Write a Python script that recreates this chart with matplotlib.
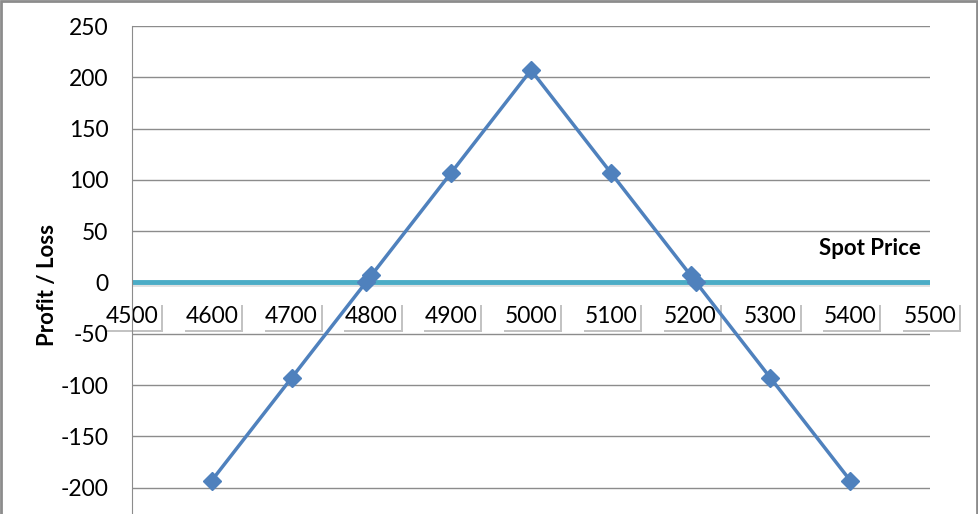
import numpy as np
import matplotlib.pyplot as plt
import matplotlib.patheffects as pe
from matplotlib.patches import Rectangle

plt.rcParams['font.family'] = ['Lato', 'DejaVu Sans']
plt.rcParams['axes.unicode_minus'] = False

# spot price vs payoff of the strategy
spot = [4600, 4700, 4793, 4800, 4900, 5000, 5100, 5200, 5207, 5300, 5400]
pnl = [-193, -93, 0, 7, 107, 207, 107, 7, 0, -93, -193]

x_ticks = [4500, 4600, 4700, 4800, 4900, 5000, 5100, 5200, 5300, 5400, 5500]
y_ticks = [-200, -150, -100, -50, 0, 50, 100, 150, 200, 250]

fig = plt.figure(figsize=(9.79, 5.14), dpi=100)
ax = fig.add_axes([0.1348, -0.0486, 0.8152, 0.998])

ax.set_xlim(4500, 5500)
ax.set_ylim(-250, 250)

# gridlines
ax.set_yticks(y_ticks)
ax.grid(axis='y', color='#8c8c8c', lw=1)
ax.set_axisbelow(True)

for s in ['top', 'right', 'bottom']:
    ax.spines[s].set_visible(False)
ax.spines['left'].set_color('#8c8c8c')
ax.spines['bottom'].set_position(('data', 0))

# zero line (horizontal axis)
ax.axhline(0, color='#4bacc6', lw=3.5, zorder=2,
           path_effects=[pe.SimpleLineShadow(offset=(0.5, -1), alpha=0.12), pe.Normal()])

ax.plot(spot, pnl, color='#4f81bd', lw=2.5, marker='D', markersize=9, zorder=3)

ax.tick_params(axis='y', length=0, pad=17, labelsize=16.5)
ax.tick_params(axis='x', length=0, pad=17, labelsize=16.5)
ax.set_xticks(x_ticks)
for lab in ax.get_xticklabels():
    lab.set_bbox(dict(boxstyle='square,pad=0.12', fc='white', ec='none'))
    lab.get_bbox_patch().set_path_effects(
        [pe.withSimplePatchShadow(offset=(1.5, -1.5), shadow_rgbFace='#888888', alpha=0.5)])
    lab.set_zorder(5)

ax.set_ylabel('Profit / Loss', fontsize=16, fontweight='bold')
ax.yaxis.set_label_coords(-0.093, 0.495)
ax.text(5425, 33, 'Spot Price', fontsize=16, fontweight='bold', ha='center', va='center')

# outer chart border
fig.patches.append(Rectangle((0.001, -0.01), 0.997, 1.008, transform=fig.transFigure,
                             fill=False, ec='#8c8c8c', lw=2))

fig.savefig('out.png', dpi=100)
